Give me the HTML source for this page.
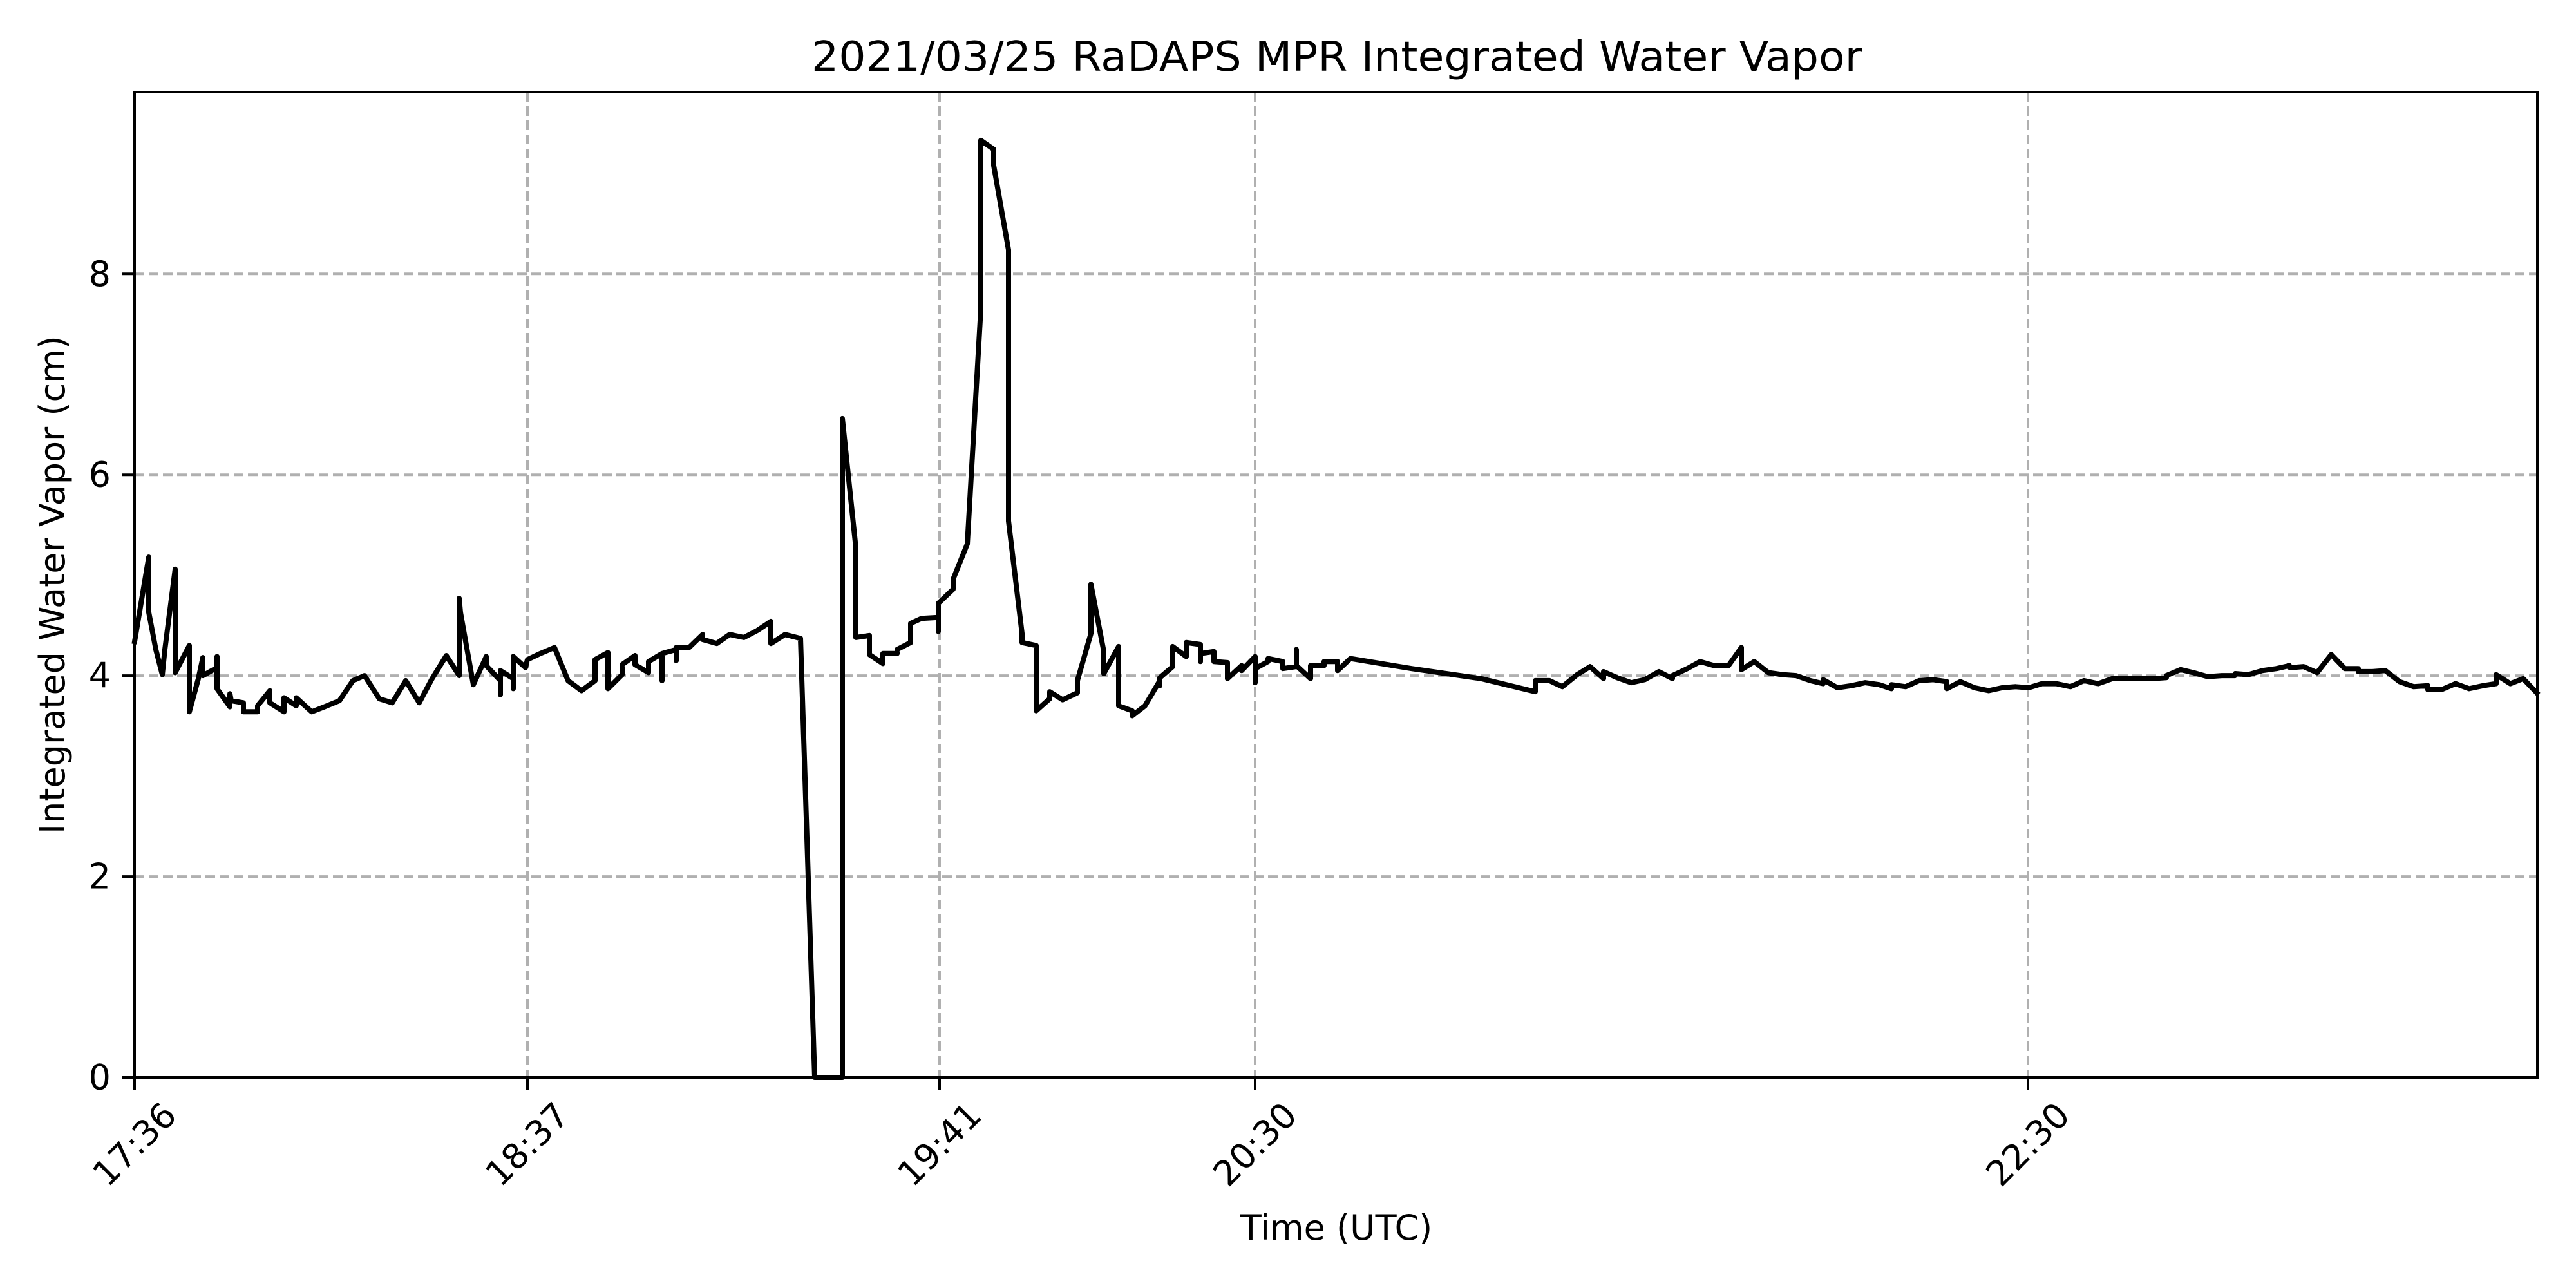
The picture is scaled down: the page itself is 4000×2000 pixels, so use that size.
<!DOCTYPE html>
<html><head><meta charset="utf-8"><style>
html,body{margin:0;padding:0;background:#fff;}
svg{display:block;font-family:"DejaVu Sans","Liberation Sans",sans-serif;}
</style></head><body>
<svg id="chart" width="4000" height="2000" viewBox="0 0 4000 2000" xmlns="http://www.w3.org/2000/svg">
<rect width="4000" height="2000" fill="#fff"/>
<text x="2076" y="110" font-size="64" text-anchor="middle" textLength="1632" lengthAdjust="spacingAndGlyphs">2021/03/25 RaDAPS MPR Integrated Water Vapor</text>
<g id="grid"></g>
<g id="series"></g>
<rect x="209" y="143" width="3731" height="1530" fill="none" stroke="#000" stroke-width="4"/>
<g id="axes"></g>
<text x="2075" y="1925" font-size="54" text-anchor="middle">Time (UTC)</text>
<text x="0" y="0" font-size="54" text-anchor="middle" transform="translate(100,908) rotate(-90)">Integrated Water Vapor (cm)</text>
</svg>
<script>
const times = [0,2.2,2.2,3.3,4.3,4.7,6.3,6.3,8.5,8.5,9.9,10.6,10.6,12.8,12.8,12.8,14.8,14.8,15,16.9,16.9,19.1,19.1,21,21,23.2,23.2,25.1,25.1,27.5,29.5,31.8,33.9,35.7,38,40,42.1,44.2,46.2,48.4,50.4,50.4,50.6,52.6,54.6,54.6,56.8,56.8,56.8,58.8,58.8,58.8,60.7,61,63,65.2,67.3,69.4,71.5,71.5,73.5,73.5,75.7,75.7,77.7,77.7,79.8,79.8,81.9,81.9,81.9,84.1,84.1,84.1,86.1,88.2,88.2,90.4,92.4,94.6,96.7,98.8,98.8,101,103.4,
105.6,109.9,109.9,112,112,114.1,114.1,116.2,116.2,118.4,118.4,120.5,120.5,122.2,124.8,124.8,124.8,127.1,127.1,129.3,131.4,131.4,133.4,133.4,135.7,135.7,137.8,137.8,140,140,142.1,142.1,144.1,146.4,146.4,148.5,148.5,150.5,150.5,152.8,152.8,154.9,154.9,156.9,159.2,159.2,159.2,161.2,161.2,163.3,163.3,165.5,165.5,165.5,167.6,167.6,169.7,169.7,171.9,171.9,174,174,174,176,176,178.3,178.3,180.4,180.4,180.4,182.6,182.6,184.7,184.7,186.8,186.8,188.8,198.3,
209.1,217.5,217.5,219.7,221.7,224,226,228.1,228.1,230.2,232.4,234.5,236.7,238.8,238.8,241.1,243.1,245.3,247.5,249.5,249.5,251.5,253.7,255.9,258,260.2,262.2,262.2,264.4,266.6,268.7,270.9,272.8,272.8,275,277.1,279.3,281.4,281.4,283.5,285.7,287.9,290,292.1,294.1,
296.2,298.4,300.6,302.7,304.9,307.1,309.3,313.3,315.5,315.5,317.7,319.7,321.9,324.1,326.1,326.2,328.2,330.4,332.6,334.6,334.7,336.8,338.9,341.1,343.2,345.3,345.3,347.5,349.5,351.7,353.9,356.1,356.1,358.2,360.4,362.5,364.7,366.7,366.7,368.9,370.9,373.0];
const iwv = [4.34,5.18,4.63,4.26,4.01,4.26,5.06,4.03,4.30,3.64,3.97,4.18,4.0,4.08,4.19,3.87,3.69,3.82,3.75,3.73,3.64,3.64,3.70,3.85,3.73,3.64,3.78,3.70,3.78,3.64,3.69,3.75,3.95,4.0,3.77,3.73,3.95,3.73,3.97,4.20,4.0,4.77,4.63,3.91,4.19,4.10,3.95,3.81,4.05,3.97,3.87,4.19,4.08,4.16,4.22,4.28,3.95,3.85,3.95,4.16,4.23,3.87,4.01,4.11,4.20,4.11,4.03,4.14,4.22,3.95,4.22,4.26,4.15,4.28,4.28,4.41,4.36,4.32,4.41,4.38,4.45,4.54,4.32,4.41,4.37,
0,0,6.56,5.27,4.38,4.40,4.21,4.12,4.22,4.22,4.26,4.33,4.52,4.57,4.58,4.44,4.72,4.86,4.96,5.31,7.65,9.33,9.24,9.08,8.24,5.54,4.42,4.33,4.30,3.65,3.77,3.84,3.76,3.83,3.95,4.42,4.91,4.24,4.02,4.29,3.70,3.65,3.60,3.70,3.95,3.90,3.98,4.09,4.29,4.19,4.33,4.31,4.14,4.22,4.24,4.14,4.13,3.97,4.10,4.05,4.19,3.93,4.07,4.14,4.17,4.14,4.07,4.09,4.26,4.10,3.97,4.10,4.10,4.14,4.14,4.05,4.17,4.07,
3.97,3.84,3.95,3.95,3.89,4.01,4.09,3.97,4.04,3.98,3.93,3.96,4.04,3.97,4.0,4.07,4.14,4.10,4.10,4.28,4.06,4.14,4.03,4.01,4.0,3.95,3.92,3.96,3.88,3.90,3.93,3.91,3.87,3.91,3.89,3.95,3.96,3.94,3.87,3.94,3.88,3.85,3.88,3.89,3.88,
3.92,3.92,3.89,3.95,3.92,3.97,3.97,3.97,3.98,4.0,4.06,4.03,3.99,4.0,4.0,4.02,4.01,4.05,4.07,4.10,4.08,4.09,4.03,4.21,4.07,4.07,4.04,4.04,4.05,3.94,3.89,3.90,3.86,3.86,3.92,3.87,3.90,3.92,4.01,3.92,3.97,3.83];
const xTickMinutes = [0,61,125,174,294];
const xTickLabels = ["17:36","18:37","19:41","20:30","22:30"];
const yTicks = [0,2,4,6,8];
const yTickLabels = ["0","2","4","6","8"];

const X0=209, X1=3940, Y0=1673, Y1=143, XMAX=373.1, YMAX=9.81;
function xs(m){return X0+(m/XMAX)*(X1-X0);}
function ys(v){return Y0-(v/YMAX)*(Y0-Y1);}
const NS="http://www.w3.org/2000/svg";
function mk(tag,attrs,parent){const e=document.createElementNS(NS,tag);for(const k in attrs)e.setAttribute(k,attrs[k]);parent.appendChild(e);return e;}
const grid=document.getElementById('grid'), axes=document.getElementById('axes'), series=document.getElementById('series');

yTicks.forEach((v,i)=>{
  const y=ys(v);
  if(v>0){const g=mk('line',{x1:X0,x2:X1,y1:y,y2:y,stroke:'#b0b0b0','stroke-width':4,'stroke-dasharray':'15,7'},grid);
  
  }
  const t=mk('line',{x1:X0-19,x2:X0,y1:y,y2:y,stroke:'#000','stroke-width':4},axes);
  
  
  const l=mk('text',{x:X0-37,y:y,'font-size':54,'text-anchor':'end','dominant-baseline':'central'},axes);
  
  
  l.textContent=yTickLabels[i];
});
xTickMinutes.forEach((m,i)=>{
  const x=xs(m);
  if(m>0){const g=mk('line',{x1:x,x2:x,y1:Y1,y2:Y0,stroke:'#b0b0b0','stroke-width':4,'stroke-dasharray':'15,7'},grid);
  
  }
  const t=mk('line',{x1:x,x2:x,y1:Y0,y2:Y0+19,stroke:'#000','stroke-width':4},axes);
  
  
  const l=mk('text',{x:0,y:0,'font-size':54,'text-anchor':'middle','dominant-baseline':'central',transform:'translate('+x+',1777) rotate(-45)'},axes);
  
  
  l.textContent=xTickLabels[i];
});
const pts=times.map((m,i)=>xs(m).toFixed(1)+','+ys(iwv[i]).toFixed(1)).join(' ');
const line=mk('polyline',{points:pts,fill:'none',stroke:'#000','stroke-width':8,'stroke-linejoin':'round','stroke-linecap':'square'},series);


</script>
</body></html>
